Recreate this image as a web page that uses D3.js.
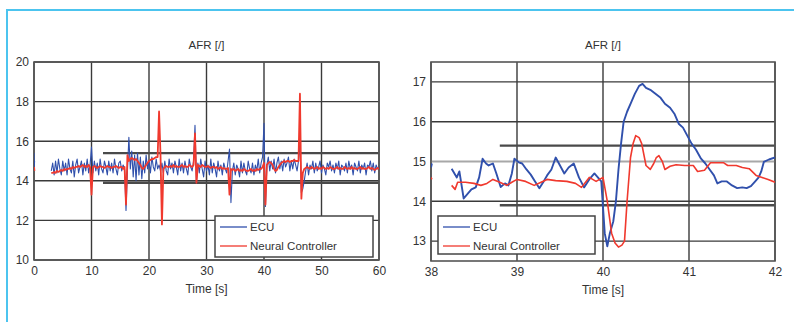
<!DOCTYPE html>
<html>
<head>
<meta charset="utf-8">
<script src="https://cdn.jsdelivr.net/npm/d3@7"></script>
<style>
  body { margin: 0; background: #fff; }
  svg { display: block; font-family: "Liberation Sans", Arial, sans-serif; }
</style>
</head>
<body>
<svg id="chart" width="794" height="322"></svg>
<script>
// ---- data ----
const leftStart = 3;      // s, first sample of the left traces
const leftStep = 0.25;    // s between samples

const ecuLeft = [
  14.5, 14.9, 14.3, 15.0, 14.4, 15.1, 14.6, 14.3, 15.0, 14.5,
  14.9, 14.3, 15.1, 14.6, 14.4, 15.0, 14.2, 14.8, 15.1, 14.4,
  14.7, 15.0, 14.3, 14.9, 14.5, 15.1, 14.4, 14.8,
  15.7,
  14.4, 15.0, 14.5, 14.9, 14.3, 15.1, 14.6, 14.4, 15.0, 14.7, 14.3,
  15.0, 14.5, 14.9, 14.4, 15.1, 14.6, 14.3, 14.9, 15.0, 14.5, 14.8, 14.6,
  12.5, 14.5, 16.2,
  14.6, 15.5, 14.2, 15.3, 14.0, 15.4, 14.3, 15.2, 14.1, 15.0, 14.4, 15.3, 14.6,
  15.0, 14.4, 15.2, 14.7, 14.5, 15.1, 14.6,
  14.8, 14.5, 14.9, 14.4,
  15.0, 14.5, 14.3, 15.1, 14.6, 14.9, 14.4, 15.0, 14.7, 14.3, 15.1,
  14.5, 14.9, 14.4, 15.0, 14.6, 14.3, 15.1, 14.7, 14.5, 15.0,
  16.8, 13.9,
  14.9, 14.4, 15.1, 14.6, 14.2, 15.0, 14.5, 14.8, 14.3, 15.1, 14.4,
  14.9, 14.6, 14.2, 15.0, 14.5, 14.8, 14.3, 14.9, 14.6, 14.4, 15.0,
  15.6, 12.9,
  14.5, 14.9, 14.3, 14.8, 14.6, 14.2, 15.0, 14.4, 14.9, 14.5, 14.3,
  15.0, 14.6, 14.4, 14.9, 14.3, 14.8, 14.5, 15.1, 14.4, 14.9, 15.2,
  16.9, 12.7,
  14.8, 15.2, 14.5, 15.0, 14.6, 15.1, 14.4, 14.9, 15.2, 14.6, 15.0, 14.5,
  15.1, 14.7, 14.9, 15.2, 14.5, 15.0, 14.6, 15.1, 14.8, 14.5, 15.0,
  16.0, 13.4, 13.6, 14.0,
  14.5, 14.9, 14.3, 14.8, 14.6, 15.0, 14.4, 14.9, 14.5, 14.7, 15.0, 14.4, 14.8,
  14.6, 14.3, 14.9, 14.7, 15.0, 14.5, 14.8, 14.4, 14.9, 14.6, 15.0, 14.3, 14.8,
  14.7, 14.5, 14.9, 14.4, 15.0, 14.6, 14.8, 14.3, 14.9, 14.7, 14.5, 15.0, 14.4,
  14.8, 14.6, 14.9, 14.3, 14.8, 14.7, 15.0, 14.5, 14.9, 14.4, 14.8, 14.6, 14.7
];

const ncLeft = [
  14.4, 14.4, 14.45, 14.4, 14.5, 14.45, 14.5, 14.55, 14.5, 14.6,
  14.55, 14.6, 14.6, 14.65, 14.6, 14.7, 14.65, 14.7, 14.7, 14.75,
  14.7, 14.75, 14.8, 14.7, 14.75, 14.7, 14.8, 14.7,
  13.3,
  14.7, 14.75, 14.7, 14.65, 14.7, 14.75, 14.7, 14.7, 14.65, 14.7, 14.75, 14.7,
  14.7, 14.65, 14.7, 14.7, 14.75, 14.7, 14.65, 14.7, 14.7, 14.6, 14.7,
  12.8, 15.3,
  15.0, 15.1, 15.15, 15.1, 15.05, 15.1, 15.0, 14.9, 14.8,
  14.65, 14.6, 14.7, 14.8, 14.9, 15.0, 15.05, 15.1, 15.1, 15.15, 15.2, 15.2,
  17.5, 15.3, 11.8, 14.6,
  14.7, 14.75, 14.7, 14.7, 14.75, 14.7, 14.8, 14.7, 14.75, 14.7, 14.7,
  14.75, 14.8, 14.7, 14.75, 14.7, 14.7, 14.8, 14.75, 14.7, 14.8,
  16.4, 13.9,
  14.8, 14.75, 14.7, 14.8, 14.75, 14.7, 14.7, 14.75, 14.7, 14.65, 14.7,
  14.7, 14.65, 14.7, 14.6, 14.65, 14.7, 14.6, 14.65, 14.6, 14.6, 14.65,
  13.3,
  14.6, 14.55, 14.6, 14.5, 14.55, 14.6, 14.5, 14.55, 14.5, 14.6, 14.55, 14.5,
  14.5, 14.55, 14.6, 14.5, 14.55, 14.5, 14.6, 14.55, 14.6, 14.6, 14.7,
  14.9, 12.8,
  14.8, 14.9, 14.95, 14.9, 14.8, 14.6, 14.5, 14.55, 14.7, 14.8, 14.9, 14.95,
  15.0, 14.95, 15.0, 15.0, 14.95, 15.0, 15.0, 15.05, 15.0, 15.0, 15.0,
  18.4, 13.1,
  14.4, 14.6, 14.65, 14.7, 14.65, 14.6, 14.7, 14.65, 14.6, 14.65, 14.7, 14.6,
  14.65, 14.6, 14.7, 14.65, 14.6, 14.65, 14.6, 14.7, 14.65, 14.6, 14.6, 14.65,
  14.7, 14.6, 14.65, 14.6, 14.6, 14.7, 14.65, 14.6, 14.65, 14.6, 14.7, 14.6,
  14.65, 14.6, 14.6, 14.65, 14.7, 14.6, 14.65, 14.6, 14.6, 14.65, 14.7, 14.6,
  14.65, 14.6, 14.55, 14.6, 14.65, 14.6
];

// short bit recorded at t = 0
const ecuLeftHead = [[0, 15.4], [0.05, 14.7], [0.1, 15.0]];
const ncLeftHead = [[0, 14.7], [0.08, 14.5]];

// zoomed window 38-42 s  [time, AFR]
const ecuRight = [
  [38.24, 14.82], [38.3, 14.6], [38.33, 14.75], [38.38, 14.07], [38.43, 14.2], [38.47, 14.3],
  [38.52, 14.35], [38.56, 14.6], [38.6, 15.07], [38.64, 14.95], [38.67, 14.9], [38.72, 14.95],
  [38.76, 14.7], [38.81, 14.36], [38.86, 14.45], [38.9, 14.4], [38.94, 14.7], [38.97, 15.07],
  [39.02, 14.98], [39.06, 14.95], [39.11, 14.8], [39.16, 14.67], [39.21, 14.5], [39.26, 14.33],
  [39.31, 14.5], [39.35, 14.65], [39.4, 14.8], [39.45, 15.1], [39.5, 14.9], [39.55, 14.7],
  [39.6, 14.85], [39.66, 14.95], [39.72, 14.6], [39.78, 14.35], [39.84, 14.55], [39.9, 14.7],
  [39.94, 14.6], [39.98, 14.5], [40.02, 13.2], [40.05, 12.87], [40.08, 13.2], [40.12, 13.5],
  [40.15, 14.0], [40.18, 14.8], [40.21, 15.45], [40.24, 16.0], [40.28, 16.25], [40.33, 16.5],
  [40.37, 16.7], [40.42, 16.9], [40.46, 16.95], [40.5, 16.85], [40.55, 16.8], [40.61, 16.7],
  [40.67, 16.6], [40.72, 16.45], [40.78, 16.35], [40.83, 16.2], [40.88, 15.95], [40.93, 15.85],
  [40.98, 15.65], [41.03, 15.45], [41.08, 15.3], [41.14, 15.07], [41.19, 14.95], [41.24, 14.8],
  [41.29, 14.65], [41.33, 14.45], [41.38, 14.5], [41.44, 14.5], [41.5, 14.4], [41.56, 14.33],
  [41.62, 14.35], [41.67, 14.33], [41.72, 14.38], [41.77, 14.5], [41.81, 14.6], [41.84, 14.75],
  [41.87, 14.99], [41.93, 15.05], [42.0, 15.1]
];
const ncRight = [
  [38.24, 14.4], [38.28, 14.3], [38.31, 14.48], [38.4, 14.48], [38.5, 14.45], [38.58, 14.4],
  [38.65, 14.45], [38.72, 14.55], [38.8, 14.48], [38.88, 14.4], [38.94, 14.48], [39.0, 14.55],
  [39.1, 14.5], [39.2, 14.4], [39.28, 14.48], [39.35, 14.55], [39.45, 14.52], [39.58, 14.5],
  [39.68, 14.45], [39.75, 14.35], [39.84, 14.6], [39.92, 14.5], [40.0, 14.6], [40.05, 14.0],
  [40.1, 13.2], [40.14, 12.95], [40.18, 12.85], [40.22, 12.9], [40.25, 13.0], [40.28, 14.0],
  [40.32, 15.1], [40.35, 15.45], [40.38, 15.65], [40.42, 15.6], [40.45, 15.45], [40.5, 14.9],
  [40.55, 14.8], [40.59, 14.95], [40.62, 15.1], [40.65, 15.15], [40.69, 15.0], [40.72, 14.8],
  [40.78, 14.88], [40.85, 14.92], [40.95, 14.9], [41.05, 14.9], [41.1, 14.75], [41.18, 14.78],
  [41.25, 14.97], [41.32, 14.97], [41.4, 14.97], [41.45, 14.9], [41.55, 14.9], [41.62, 14.85],
  [41.7, 14.82], [41.78, 14.65], [41.85, 14.6], [41.92, 14.55], [42.0, 14.48]
];
const ecuRightHead = [[38, 14.85], [38.01, 14.95]];
const ncRightHead = [[38, 14.6], [38.01, 14.55]];

const bandLevels = [13.9, 15.4];

const leftXTicks = [0, 10, 20, 30, 40, 50, 60];
const leftYTicks = [10, 12, 14, 16, 18, 20];
const rightXTicks = [38, 39, 40, 41, 42];
const rightYTicks = [13, 14, 15, 16, 17];

const seriesNames = ["ECU", "Neural Controller"];
const blue = "#3050ac";
const red = "#f0392e";
const gridColor = "#3a3a3a";

const svg = d3.select("#chart");

// light blue frame of the figure box
svg.append("path")
  .attr("d", "M7,322 L7,10 L794,10")
  .attr("fill", "none")
  .attr("stroke", "#4cc4ef")
  .attr("stroke-width", 2);

function drawPanel(o) {
  const x = d3.scaleLinear().domain(o.xDomain).range([o.left, o.right]);
  const y = d3.scaleLinear().domain(o.yDomain).range([o.bottom, o.top]);
  const g = svg.append("g");

  // grid
  g.selectAll(".vgrid")
    .data(o.xTicks)
    .enter()
    .append("line")
    .attr("x1", d => x(d)).attr("x2", d => x(d))
    .attr("y1", o.top).attr("y2", o.bottom)
    .attr("stroke", gridColor)
    .attr("stroke-width", 1.4);

  g.selectAll(".hgrid")
    .data(o.yTicks)
    .enter()
    .append("line")
    .attr("x1", o.left).attr("x2", o.right)
    .attr("y1", d => y(d)).attr("y2", d => y(d))
    .attr("stroke", d => d === o.lightLine ? "#a8a8a8" : gridColor)
    .attr("stroke-width", d => d === o.lightLine ? 2.2 : 1.4);

  // tolerance band
  g.selectAll(".band")
    .data(bandLevels)
    .enter()
    .append("line")
    .attr("x1", x(o.bandStart)).attr("x2", o.right)
    .attr("y1", d => y(d)).attr("y2", d => y(d))
    .attr("stroke", "#4a4a4a")
    .attr("stroke-width", 2.4);

  // frame
  g.append("rect")
    .attr("x", o.left).attr("y", o.top)
    .attr("width", o.right - o.left).attr("height", o.bottom - o.top)
    .attr("fill", "none")
    .attr("stroke", "#555")
    .attr("stroke-width", 1.6);

  // axes labels
  const xAxis = g.append("g")
    .attr("transform", `translate(0,${o.bottom})`)
    .call(d3.axisBottom(x).tickValues(o.xTicks).tickSize(0).tickPadding(6).tickFormat(d3.format("d")));
  const yAxis = g.append("g")
    .attr("transform", `translate(${o.left},0)`)
    .call(d3.axisLeft(y).tickValues(o.yTicks).tickSize(0).tickPadding(5).tickFormat(d3.format("d")));
  [xAxis, yAxis].forEach(a => {
    a.select(".domain").remove();
    a.selectAll("text")
      .style("font-size", "12px")
      .style("fill", "#333")
      .style("font-family", "Liberation Sans, Arial, sans-serif");
  });

  const clipId = "clip" + o.id;
  svg.append("clipPath").attr("id", clipId)
    .append("rect")
    .attr("x", o.left).attr("y", o.top)
    .attr("width", o.right - o.left).attr("height", o.bottom - o.top);

  const line = d3.line().x(d => x(d[0])).y(d => y(d[1]));
  const traces = g.append("g").attr("clip-path", `url(#${clipId})`);

  o.series.forEach(s => {
    s.parts.forEach(p => {
      traces.append("path")
        .datum(p)
        .attr("fill", "none")
        .attr("stroke", s.color)
        .attr("stroke-width", s.width)
        .attr("stroke-linejoin", "round")
        .attr("d", line);
    });
  });

  // titles
  g.append("text")
    .attr("x", (o.left + o.right) / 2)
    .attr("y", 49)
    .attr("text-anchor", "middle")
    .style("font-size", "11.5px")
    .style("fill", "#333")
    .text("AFR [/]");

  g.append("text")
    .attr("x", (o.left + o.right) / 2)
    .attr("y", o.bottom + 33)
    .attr("text-anchor", "middle")
    .style("font-size", "12px")
    .style("fill", "#333")
    .text("Time [s]");

  // legend
  const lg = g.append("g").attr("transform", `translate(${o.legend[0]},${o.legend[1]})`);
  lg.append("rect")
    .attr("width", o.legend[2]).attr("height", o.legend[3])
    .attr("fill", "#fff")
    .attr("stroke", "#444")
    .attr("stroke-width", 1.5);
  seriesNames.forEach((name, i) => {
    const yy = 11 + i * 19;
    lg.append("line")
      .attr("x1", 5).attr("x2", 32)
      .attr("y1", yy).attr("y2", yy)
      .attr("stroke", i === 0 ? blue : red)
      .attr("stroke-width", 1.3);
    lg.append("text")
      .attr("x", 35).attr("y", yy + 4)
      .style("font-size", "11.5px")
      .style("fill", "#333")
      .text(name);
  });
}

const ecuLeftPts = ecuLeft.map((v, i) => [leftStart + i * leftStep, v]);
const ncLeftPts = ncLeft.map((v, i) => [leftStart + i * leftStep, v]);

drawPanel({
  id: "L",
  left: 34, right: 379, top: 62, bottom: 260,
  xDomain: [0, 60], yDomain: [10, 20],
  xTicks: leftXTicks, yTicks: leftYTicks,
  bandStart: 12, lightLine: null,
  legend: [215, 216, 158, 41],
  series: [
    { color: blue, width: 1.1, parts: [ecuLeftHead, ecuLeftPts] },
    { color: red, width: 1.8, parts: [ncLeftHead, ncLeftPts] }
  ]
});

drawPanel({
  id: "R",
  left: 431, right: 775, top: 62, bottom: 261,
  xDomain: [38, 42], yDomain: [12.5, 17.5],
  xTicks: rightXTicks, yTicks: rightYTicks,
  bandStart: 38.8, lightLine: 15,
  legend: [438, 216, 157, 38],
  series: [
    { color: blue, width: 1.9, parts: [ecuRightHead, ecuRight] },
    { color: red, width: 1.6, parts: [ncRightHead, ncRight] }
  ]
});
</script>
</body>
</html>
